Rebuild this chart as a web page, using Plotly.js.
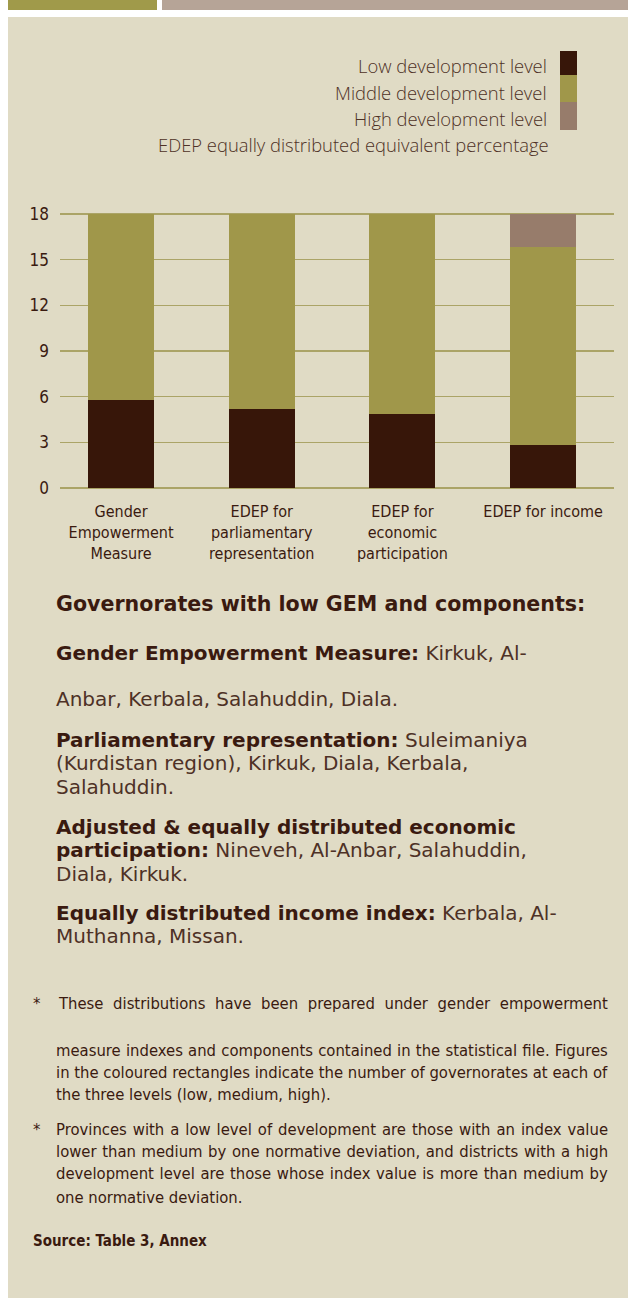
<!DOCTYPE html>
<html><head><meta charset="utf-8">
<script src="https://cdn.plot.ly/plotly-3.0.1.min.js"></script>
<style>html,body{margin:0;padding:0;background:#fff;} #chart{width:628px;height:1299px;}</style>
</head><body><div id="chart"></div>
<script>
// ---- data ----
const categories = ["Gender<br>Empowerment<br>Measure", "EDEP for<br>parliamentary<br>representation", "EDEP for<br>economic<br>participation", "EDEP for income"];
const seriesNames = ["Low development level", "Middle development level", "High development level"];
const lowValues = [5.8, 5.2, 4.85, 2.8];
const middleValues = [12.2, 12.8, 13.15, 13.0];
const highValues = [0, 0, 0, 2.2];
const yTicks = [0, 3, 6, 9, 12, 15, 18];
const legendNote = "EDEP equally distributed equivalent percentage";
const heading = "Governorates with low GEM and components:";
// each line = [bold part, regular part]
const notes = [
  ["Gender Empowerment Measure:", " Kirkuk, Al-"],
  ["", "Anbar, Kerbala, Salahuddin, Diala."],
  ["Parliamentary representation:", " Suleimaniya"],
  ["", "(Kurdistan region), Kirkuk, Diala, Kerbala,"],
  ["", "Salahuddin."],
  ["Adjusted &amp; equally distributed economic", ""],
  ["participation:", " Nineveh, Al-Anbar, Salahuddin,"],
  ["", "Diala, Kirkuk."],
  ["Equally distributed income index:", " Kerbala, Al-"],
  ["", "Muthanna, Missan."]
];
const footnote1 = ["These distributions have been prepared under gender empowerment",
  "measure indexes and components contained in the statistical file. Figures",
  "in the coloured rectangles indicate the number of governorates at each of",
  "the three levels (low, medium, high)."];
const footnote2 = ["Provinces with a low level of development are those with an index value",
  "lower than medium by one normative deviation, and districts with a high",
  "development level are those whose index value is more than medium by",
  "one normative deviation."];
const sourceText = "Source: Table 3, Annex";

// ---- styling ----
const W = 628, H = 1299;
const px = x => x / W;
const py = y => 1 - y / H;
const colors = ["#371609", "#A0974A", "#977C6B"];
const BG = "#E0DBC5";
const TXT = "#3A1A10";
const TXT_LIGHT = "#4E3126";
const SANS = '"Open Sans", "Noto Sans", sans-serif';
const BODY = '"DejaVu Sans", "Liberation Sans", sans-serif';
const COND = '"DejaVu Sans Condensed", "Liberation Sans Narrow", "Liberation Sans", sans-serif';

const values = [lowValues, middleValues, highValues];
const traces = seriesNames.map((n, i) => ({
  type: "bar", name: n, x: categories, y: values[i],
  marker: {color: colors[i]}, width: 0.469, hoverinfo: "skip"
}));

const shapes = [
  {type: "rect", xref: "paper", yref: "paper", x0: px(8), x1: px(628), y0: py(1298), y1: py(17), fillcolor: BG, line: {width: 0}, layer: "below"},
  {type: "rect", xref: "paper", yref: "paper", x0: px(8), x1: px(157), y0: py(10), y1: py(0), fillcolor: "#A09A4A", line: {width: 0}, layer: "below"},
  {type: "rect", xref: "paper", yref: "paper", x0: px(162), x1: px(628), y0: py(10), y1: py(0), fillcolor: "#B6A497", line: {width: 0}, layer: "below"}
];
const legTops = [51, 75, 102], legBots = [75, 102, 130], legText = [65, 92, 118];
const annotations = [];
const ann = (x, y, text, font, xanchor) => annotations.push({xref: "paper", yref: "paper", x: px(x), y: py(y), xanchor: xanchor || "left", align: xanchor || "left", yanchor: "middle", text: text, showarrow: false, font: font});
const legFont = {family: SANS, size: 18.4, color: TXT_LIGHT, weight: 300};
seriesNames.forEach((n, i) => {
  shapes.push({type: "rect", xref: "paper", yref: "paper", x0: px(560), x1: px(577), y0: py(legBots[i]), y1: py(legTops[i]), fillcolor: colors[i], line: {width: 0}});
  ann(549, legText[i], n, legFont, "right");
});
ann(551, 145, legendNote, legFont, "right");

// text block
const BOLD = s => '<b style="fill:' + TXT + '">' + s + "</b>";
ann(54, 604, BOLD(heading), {family: BODY, size: 20.6, color: TXT});
const noteY = [653, 699, 739.5, 763, 786.5, 826.5, 850, 873.5, 912.5, 936];
notes.forEach((l, i) => {
  const t = (l[0] ? BOLD(l[0]) : "") + (l[1] ? l[1] : "");
  ann(54, noteY[i], t, {family: BODY, size: 20, color: TXT_LIGHT});
});

const fnFont = {family: COND, size: 16.5, color: TXT};
const fn1Y = [1003, 1050, 1072, 1094], fn2Y = [1129, 1151, 1173, 1197];
[[footnote1, fn1Y, 56], [footnote2, fn2Y, 54]].forEach(([lines, ys, x0]) => {
  ann(31, ys[0], "*", fnFont);
  lines.forEach((l, i) => ann(i === 0 ? x0 : 54, ys[i], l, fnFont));
});
ann(31, 1241, "<b>" + sourceText + "</b>", {family: COND, size: 15, color: TXT});

const layout = {
  width: W, height: H, margin: {l: 0, r: 0, t: 0, b: 0},
  paper_bgcolor: "#FFFFFF", plot_bgcolor: "rgba(0,0,0,0)",
  barmode: "stack", showlegend: false,
  xaxis: {domain: [px(60), px(614)], type: "category", range: [-0.434, 3.504], showgrid: false, zeroline: false, showline: false, ticks: "",
    ticklabelstandoff: 9, tickfont: {family: COND, size: 16, color: TXT}, fixedrange: true},
  yaxis: {domain: [py(491.04), py(209.43)], range: [-0.2, 18.3], tickvals: yTicks, showgrid: true, gridcolor: "#ABA467", gridwidth: 1.5,
    zeroline: false, showline: false, ticks: "", ticklabelstandoff: 10, tickfont: {family: COND, size: 17, color: TXT}, fixedrange: true},
  shapes: shapes, annotations: annotations
};
Plotly.newPlot("chart", traces, layout, {displayModeBar: false, staticPlot: true}).then(() => {
  // justify the footnote lines as in the reference (all but the last line of each note)
  const norm = s => s.replace(/\s+/g, " ").trim();
  const targets = footnote1.slice(0, 3).concat(footnote2.slice(0, 3)).map(norm);
  const root = document.getElementById("chart").getBoundingClientRect();
  document.querySelectorAll(".annotation-text").forEach(t => {
    try {
      const s = norm(t.textContent);
      if (targets.indexOf(s) >= 0) {
        const r = t.getBoundingClientRect();
        const spaces = (s.match(/ /g) || []).length;
        const extra = (608 - (r.right - root.left)) / spaces;
        if (extra > 0 && spaces) t.style.wordSpacing = extra.toFixed(2) + "px";
      }
    } catch (e) {}
  });
});
</script></body></html>
